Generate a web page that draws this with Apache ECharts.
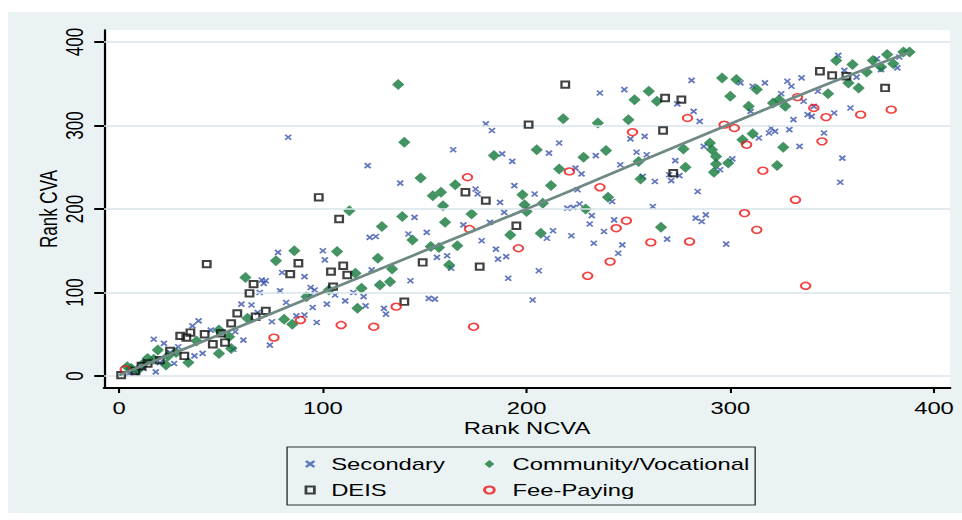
<!DOCTYPE html>
<html>
<head>
<meta charset="utf-8">
<script src="https://cdn.jsdelivr.net/npm/echarts@6/dist/echarts.min.js"></script>
<style>
html,body{margin:0;padding:0;background:#fff;overflow:hidden;}
#wrap{width:962px;height:520px;overflow:hidden;}
#c{width:687px;height:520px;transform:scaleX(1.40029);transform-origin:0 0;}
</style>
</head>
<body>
<div id="wrap"><div id="c"></div></div>
<script>
// ---- data (Rank NCVA, Rank CVA) ----
const secondary = [
[78,148],[80,124],[91,119],[70,115],[72,114],[71,111],[69,100],[79,102],[94,106],[60,86],[65,85],[82,88],[95,82],[68,76],[75,65],[91,73],[87,72],[97,64],[39,66],[36,60],[45,55],[57,53],[17,44],[22,39],[29,35],[37,24],[41,27],[61,43],[56,32],[74,37],[27,15],[18,5],[12,9],[8,5],[20,16],[25,28],[5,3],
[122,252],[138,231],[145,190],[142,170],[123,166],[126,167],[100,150],[101,139],[96,103],[106,97],[94,97],[115,100],[120,95],[124,127],[143,114],[111,90],[102,86],[121,84],[130,81],[83,286],
[164,271],[188,266],[211,267],[193,257],[234,264],[224,249],[227,242],[175,224],[176,218],[194,228],[204,218],[187,208],[225,223],[220,201],[223,202],[226,206],[232,192],[231,182],[189,196],[169,181],[182,184],[151,172],[213,174],[210,165],[222,168],[233,159],[178,162],[185,152],[186,140],[190,143],[206,126],[161,144],[156,142],[163,129],[191,117],[152,93],[155,92],[203,91],[131,74],[180,302],[183,294],
[281,354],[236,339],[248,343],[311,347],[305,351],[274,326],[282,317],[285,305],[310,317],[251,284],[258,287],[287,275],[314,285],[254,268],[259,265],[246,253],[273,258],[301,260],[295,247],[270,241],[275,240],[216,279],[257,239],[263,233],[271,234],[284,221],[242,209],[262,203],[243,187],[238,173],[283,189],[288,193],[286,185],[247,157],[245,147],[269,164],[298,158],
[353,384],[372,380],[383,382],[356,366],[362,358],[382,369],[374,367],[335,357],[328,353],[330,347],[317,351],[325,338],[343,341],[336,329],[341,323],[338,313],[340,311],[351,315],[359,321],[331,307],[320,297],[319,291],[322,293],[329,295],[346,291],[334,275],[355,261],[354,232]
];
const community = [
[62,118],[77,138],[86,150],[92,95],[63,69],[81,68],[85,62],[49,55],[54,47],[55,33],[49,27],[38,42],[34,16],[19,31],[14,21],[23,13],[9,7],[4,11],[6,9],[12,15],[17,20],[24,24],[28,28],
[113,198],[139,191],[129,179],[148,237],[144,163],[107,149],[127,141],[134,128],[116,123],[119,105],[128,109],[133,113],[103,103],[117,81],[137,349],[140,280],
[184,264],[205,271],[228,262],[216,248],[165,229],[154,216],[158,220],[159,204],[212,228],[198,217],[199,205],[200,197],[208,207],[229,200],[173,194],[160,184],[192,169],[207,171],[153,155],[157,154],[166,156],[162,133],
[296,357],[303,355],[313,343],[300,335],[309,323],[260,341],[253,331],[264,329],[218,308],[235,303],[250,307],[290,279],[306,283],[311,290],[291,271],[293,263],[299,255],[293,254],[292,244],[277,272],[278,250],[239,270],[255,257],[256,236],[240,214],[266,178],
[352,378],[360,373],[370,378],[377,385],[374,370],[380,374],[385,388],[388,388],[367,364],[358,351],[363,345],[348,338],[324,331],[321,327],[327,323],[326,274],[323,252]
];
const deis = [
[1,1],[8,6],[11,12],[14,15],[20,19],[25,30],[32,24],[30,48],[33,46],[35,52],[42,50],[46,38],[50,51],[52,40],[55,63],[58,75],[67,71],[72,78],[64,99],[66,110],[43,134],[84,122],[88,135],[98,214],[108,188],[104,125],[110,132],[112,121],[105,107],[140,89],[170,220],[180,210],[195,180],[149,136],[177,131],[219,349],[201,301],[268,333],[276,331],[267,294],[272,243],[344,365],[350,360],[357,359],[376,345]
];
const feePaying = [
[3,8],[76,46],[89,67],[109,61],[125,59],[136,83],[171,238],[172,176],[174,59],[196,153],[221,245],[230,120],[236,226],[241,137],[244,177],[249,186],[252,292],[261,160],[279,309],[280,161],[297,301],[302,297],[307,195],[308,277],[313,175],[316,246],[332,211],[333,334],[337,108],[341,321],[345,281],[347,310],[364,313],[379,319]
];
const fitLine = [[0,1],[50,50],[100,100],[150,150],[200,200],[250,251],[300,302],[350,352],[388,388]];
const xTicks = [0,100,200,300,400];
const yTicks = [0,100,200,300,400];
const seriesNames = ['Secondary','Community/Vocational','DEIS','Fee-Paying'];

const FONT = "'Liberation Sans', Arial, sans-serif";
const BG = '#eaf2f3';
const chart = echarts.init(document.getElementById('c'), null, {renderer:'svg'});
chart.setOption({
  backgroundColor: '#ffffff',
  animation: false,
  textStyle: {fontFamily: FONT},
  graphic: [
    {type:'rect', z:-10, silent:true, shape:{x:5.7, y:12, width:700, height:501}, style:{fill:BG}},
    {type:'rect', z:0, silent:true, shape:{x:205, y:447, width:334.3, height:58}, style:{fill:BG, stroke:'#333', lineWidth:1}}
  ],
  grid: {left:74.3, right:8.5, top:30, bottom:132, show:true, backgroundColor:'#ffffff', borderWidth:0},
  xAxis: {
    type:'value', min:-7.4, max:407.9,
    name:'Rank NCVA', nameLocation:'middle', nameGap:31, nameMoveOverlap:false,
    nameTextStyle:{fontSize:17, color:'#000', fontFamily:FONT},
    axisLine:{show:true, onZero:false, lineStyle:{color:'#000', width:2}},
    axisTick:{show:true, length:5, customValues:xTicks, lineStyle:{color:'#000', width:1.5}},
    axisLabel:{customValues:xTicks, margin:11, fontSize:17, color:'#000', fontFamily:FONT},
    splitLine:{show:false}
  },
  yAxis: {
    type:'value', min:-14.4, max:414.4,
    name:'Rank CVA', nameLocation:'middle', nameGap:31, nameRotate:90, nameMoveOverlap:false,
    nameTextStyle:{fontSize:17, color:'#000', fontFamily:FONT},
    axisLine:{show:true, onZero:false, lineStyle:{color:'#000', width:1.6}},
    axisTick:{show:true, length:7, customValues:yTicks, lineStyle:{color:'#000', width:2}},
    axisLabel:{customValues:yTicks, margin:13, rotate:90, fontSize:17, color:'#000', fontFamily:FONT},
    splitLine:{show:false}
  },
  legend: [
    {orient:'vertical', left:212.5, top:449, itemWidth:6, itemHeight:7, itemGap:6,
     data:[seriesNames[0], seriesNames[2]],
     textStyle:{fontSize:17, lineHeight:20, color:'#000', fontFamily:FONT, padding:[0,0,0,7]}},
    {orient:'vertical', left:340, top:449, itemWidth:7, itemHeight:8, itemGap:6,
     data:[seriesNames[1], seriesNames[3]],
     textStyle:{fontSize:17, lineHeight:20, color:'#000', fontFamily:FONT, padding:[0,0,0,8]}}
  ],
  series: [
    {type:'line', data:[], silent:true, z:1, symbol:'none',
     markLine:{silent:true, symbol:['none','none'], label:{show:false},
       lineStyle:{color:'#d8e5eb', width:1.5, type:'solid'},
       data: yTicks.map(v => ({yAxis:v}))}},
    {name:seriesNames[0], type:'scatter', data:secondary, z:3,
     symbol:'path://M0,0L10,10M10,0L0,10', symbolSize:[4.3,5],
     itemStyle:{color:'rgba(0,0,0,0)', borderColor:'#3b55ae', borderWidth:1.5}},
    {name:seriesNames[1], type:'scatter', data:community, z:4,
     symbol:'diamond', symbolSize:[8.8,11],
     itemStyle:{color:'#14783c', borderWidth:0}},
    {name:seriesNames[2], type:'scatter', data:deis, z:5,
     symbol:'rect', symbolSize:[5.4,6.4],
     itemStyle:{color:'rgba(0,0,0,0)', borderColor:'#111', borderWidth:1.8}},
    {name:seriesNames[3], type:'scatter', data:feePaying, z:6,
     symbol:'circle', symbolSize:6.8,
     itemStyle:{color:'rgba(0,0,0,0)', borderColor:'#f01010', borderWidth:1.5}},
    {type:'line', data:fitLine, z:7, symbol:'none', silent:true, smooth:true,
     lineStyle:{color:'#6f8a85', width:2.6}}
  ]
});
</script>
</body>
</html>
